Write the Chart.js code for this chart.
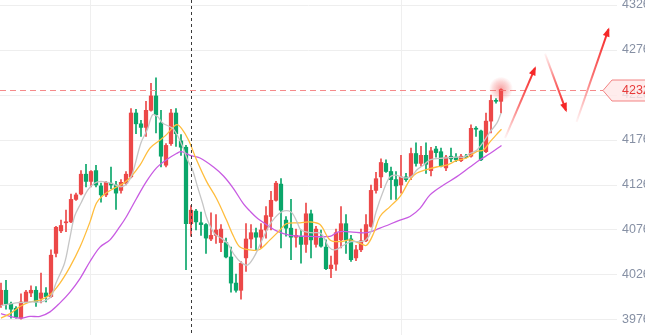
<!DOCTYPE html>
<html>
<head>
<meta charset="utf-8">
<title>K线</title>
<script src="https://cdn.jsdelivr.net/npm/chart.js@4/dist/chart.umd.min.js"></script>
<style>
  html, body { margin: 0; padding: 0; background: #fff; overflow: hidden; }
  #kline { display: block; }
</style>
</head>
<body>
<canvas id="kline" width="645" height="335"></canvas>
<script>
'use strict';

// daily candles, oldest first
const opens = [3993, 4009, 3994, 3989, 3978, 3996, 4006, 4009, 4000, 4006,
  4002, 4050, 4075, 4084, 4085, 4110, 4116, 4138, 4130, 4142,
  4125, 4115, 4128, 4126, 4120, 4128, 4135, 4206, 4194, 4190,
  4209, 4225, 4195, 4148, 4172, 4206, 4175, 4168, 4083, 4097,
  4084, 4082, 4066, 4070, 4062, 4062, 4046, 4017, 4009, 4045,
  4066, 4073, 4068, 4076, 4091, 4109, 4127, 4087, 4078, 4068,
  4069, 4060, 4094, 4060, 4067, 4057, 4033, 4038, 4065, 4083,
  4066, 4045, 4054, 4064, 4080, 4120, 4135, 4150, 4141, 4132,
  4126, 4135, 4135, 4161, 4150, 4159, 4142, 4166, 4163, 4145,
  4158, 4157, 4153, 4158, 4158, 4189, 4186, 4163, 4197, 4220, 4219];
const highs = [4017, 4020, 3996, 3991, 4005, 4009, 4014, 4013, 4028, 4012,
  4054, 4080, 4087, 4098, 4116, 4117, 4142, 4149, 4142, 4148,
  4128, 4130, 4146, 4130, 4132, 4141, 4211, 4210, 4198, 4219,
  4239, 4245, 4209, 4172, 4210, 4211, 4182, 4170, 4103, 4099,
  4096, 4083, 4095, 4093, 4082, 4067, 4057, 4027, 4041, 4083,
  4082, 4078, 4083, 4102, 4119, 4130, 4133, 4091, 4110, 4077,
  4076, 4106, 4098, 4080, 4076, 4065, 4047, 4077, 4102, 4093,
  4070, 4059, 4077, 4093, 4126, 4140, 4155, 4154, 4146, 4141,
  4159, 4139, 4167, 4173, 4169, 4173, 4168, 4169, 4167, 4159,
  4167, 4161, 4160, 4160, 4193, 4191, 4187, 4206, 4226, 4222, 4233];
const lows = [3990, 3988, 3978, 3978, 3977, 3995, 4002, 3991, 3995, 3996,
  4001, 4046, 4073, 4074, 4084, 4109, 4115, 4124, 4124, 4124,
  4107, 4113, 4122, 4099, 4117, 4126, 4134, 4183, 4180, 4180,
  4208, 4184, 4146, 4146, 4170, 4169, 4159, 4032, 4069, 4076,
  4070, 4050, 4064, 4061, 4052, 4045, 4007, 4007, 3999, 4030,
  4056, 4054, 4056, 4067, 4076, 4108, 4056, 4069, 4043, 4057,
  4039, 4051, 4045, 4057, 4057, 4032, 4023, 4031, 4056, 4050,
  4041, 4042, 4052, 4063, 4079, 4117, 4123, 4140, 4110, 4110,
  4117, 4130, 4132, 4147, 4147, 4139, 4136, 4157, 4146, 4142,
  4152, 4152, 4152, 4156, 4157, 4180, 4153, 4162, 4184, 4217, 4206];
const closes = [4009, 3994, 3988, 3979, 3996, 4007, 4009, 3996, 4006, 4002,
  4048, 4079, 4081, 4085, 4110, 4115, 4138, 4130, 4141, 4126,
  4115, 4129, 4126, 4117, 4129, 4138, 4206, 4194, 4190, 4209,
  4225, 4204, 4158, 4170, 4206, 4183, 4168, 4083, 4098, 4085,
  4082, 4067, 4070, 4076, 4077, 4046, 4017, 4009, 4039, 4066,
  4073, 4068, 4076, 4092, 4109, 4128, 4098, 4078, 4068, 4070,
  4060, 4094, 4065, 4077, 4058, 4033, 4037, 4073, 4083, 4065,
  4043, 4054, 4064, 4082, 4120, 4133, 4151, 4141, 4132, 4125,
  4135, 4132, 4161, 4150, 4159, 4149, 4164, 4162, 4147, 4157,
  4155, 4154, 4158, 4157, 4189, 4188, 4154, 4197, 4220, 4219, 4232];

// moving averages as [candle index, price]
const ma5 = [[0, 3992], [3, 3995], [6, 3996], [8, 3996], [9, 3998], [10, 4002], [11, 4017],
  [12.7, 4039], [13.7, 4065], [14.7, 4091], [16, 4106], [17.3, 4120], [18.7, 4128], [20, 4130],
  [22, 4128], [24, 4124], [25.3, 4128], [26.3, 4139], [28, 4173], [29.3, 4188], [30.3, 4204],
  [31.3, 4202], [32.3, 4195], [34.3, 4189], [35.3, 4181], [36.3, 4169], [37.3, 4154], [38.3, 4143],
  [39.3, 4124], [40.3, 4106], [41.3, 4087], [42.7, 4072], [44, 4067], [45.3, 4061], [46.7, 4048],
  [48, 4040], [49.3, 4037], [50.5, 4045], [51.5, 4056], [53, 4074], [54.1, 4085], [56.1, 4096],
  [58, 4096], [59.2, 4085], [60, 4076], [62, 4073], [64, 4072], [65.6, 4057], [66.8, 4054],
  [68.5, 4059], [70, 4063], [72, 4063], [73, 4065], [74, 4074], [75, 4096], [76.5, 4120],
  [77.8, 4135], [79, 4137], [80.5, 4134], [82, 4135], [83.2, 4143], [84.5, 4148], [85.8, 4154],
  [88.5, 4156], [91.2, 4157], [92.5, 4157], [93.8, 4161], [95.2, 4165], [96.5, 4174],
  [97.8, 4185], [99.2, 4195], [100, 4206]];
const ma10 = [[0, 3978], [1.8, 3983], [3.8, 3991], [5.8, 3996], [7.8, 3998], [9.8, 4004],
  [11.8, 4017], [13.8, 4035], [15.8, 4057], [17.8, 4085], [19.1, 4106], [20.5, 4115],
  [22.5, 4122], [24.5, 4128], [25.8, 4134], [27.8, 4148], [29.8, 4167], [31.8, 4176],
  [33.1, 4182], [35.1, 4193], [36.1, 4189], [37.5, 4176], [39.1, 4154], [41.1, 4130],
  [43.1, 4111], [45.1, 4087], [46.5, 4069], [47.8, 4057], [49.8, 4054], [51.6, 4054],
  [53.8, 4065], [55.8, 4076], [57.1, 4083], [59.8, 4084], [61.8, 4085], [63.8, 4082],
  [65.8, 4065], [67.8, 4063], [69.8, 4065], [71.8, 4061], [73.1, 4059], [74.5, 4072],
  [75.8, 4091], [77.8, 4102], [79.8, 4113], [81.8, 4132], [83.1, 4139], [85.1, 4143],
  [87.1, 4146], [89.1, 4148], [91.1, 4153], [93.1, 4156], [95.1, 4163], [96.5, 4165],
  [97.8, 4174], [99.1, 4182], [100.1, 4188]];
const ma20 = [[0, 3983], [1.8, 3980], [3.8, 3978], [5.8, 3980], [7.8, 3980], [9.8, 3985],
  [11.8, 3995], [13.8, 4007], [15.8, 4022], [17.8, 4041], [19.8, 4057], [21.8, 4065],
  [23.8, 4080], [25.1, 4091], [27.1, 4111], [29.1, 4130], [31.1, 4145], [33.1, 4154],
  [35.1, 4161], [36.1, 4163], [37.8, 4159], [39.8, 4156], [42.5, 4146], [44.5, 4136],
  [46.5, 4122], [48.5, 4105], [49.8, 4097], [51.1, 4090], [53.1, 4082], [55.1, 4075],
  [57.8, 4070], [61.8, 4069], [65.8, 4069], [67.5, 4074], [69.8, 4074], [73.1, 4073],
  [75.8, 4078], [79.8, 4087], [81.8, 4091], [83.8, 4100], [85.8, 4115], [88.5, 4126],
  [91.1, 4135], [93.8, 4146], [95.8, 4154], [97.8, 4161], [100.1, 4170]];

const priceTicks = [3976, 4026, 4076, 4126, 4176, 4226, 4276, 4326];
const dateTicks = [18, 80];   // month boundaries
const crossIndex = 38;

// hand-drawn trend arrows, [index, price] from -> to
const arrows = [
  [[100.8, 4178], [106.8, 4256]],
  [[108.8, 4272], [113, 4209]],
  [[115.1, 4196], [121.5, 4299]]
];

const upColor = '#ec4848';
const downColor = '#0aa66a';

let bodies = [];
let wicks = [];
let candleColors = [];
for (let i = 0; i < closes.length; i++) {
  bodies.push({x: i, y: [opens[i], closes[i]]});
  wicks.push({x: i, y: [lows[i], highs[i]]});
  candleColors.push(closes[i] >= opens[i] ? upColor : downColor);
}

function toPoints(list) {
  return list.map(function(p) { return {x: p[0], y: p[1]}; });
}

function lineSet(label, list, color) {
  return {
    type: 'line',
    label: label,
    data: toPoints(list),
    borderColor: color,
    borderWidth: 1.3,
    pointRadius: 0,
    tension: 0.35,
    fill: false,
    order: 1
  };
}

// last price line, cross line, arrows and price tag
const overlay = {
  id: 'overlay',
  afterDatasetsDraw(chart) {
    let ctx = chart.ctx;
    let x = chart.scales.x;
    let y = chart.scales.y;
    let area = chart.chartArea;
    let last = closes.length - 1;
    let lastY = y.getPixelForValue(closes[last]);

    ctx.save();
    // vertical cross line
    let cx = Math.round(x.getPixelForValue(crossIndex)) + 0.5;
    ctx.strokeStyle = '#3a3a3a';
    ctx.lineWidth = 1;
    ctx.setLineDash([3, 3]);
    ctx.beginPath();
    ctx.moveTo(cx, area.top);
    ctx.lineTo(cx, area.bottom);
    ctx.stroke();

    // last price dashed line
    ctx.strokeStyle = '#f58a8a';
    ctx.setLineDash([6, 4]);
    ctx.beginPath();
    ctx.moveTo(area.left, Math.round(lastY) + 0.5);
    ctx.lineTo(area.right - 14, Math.round(lastY) + 0.5);
    ctx.stroke();
    ctx.setLineDash([]);

    // pulse glow on the latest candle
    let gx = x.getPixelForValue(last);
    let gy = y.getPixelForValue(highs[last]);
    let glow = ctx.createRadialGradient(gx, gy, 0, gx, gy, 12);
    glow.addColorStop(0, 'rgba(240, 70, 70, 0.5)');
    glow.addColorStop(0.6, 'rgba(240, 90, 90, 0.25)');
    glow.addColorStop(1, 'rgba(240, 90, 90, 0)');
    ctx.fillStyle = glow;
    ctx.beginPath();
    ctx.arc(gx, gy, 12, 0, Math.PI * 2);
    ctx.fill();

    // trend arrows
    for (let i = 0; i < arrows.length; i++) {
      let x0 = x.getPixelForValue(arrows[i][0][0]);
      let y0 = y.getPixelForValue(arrows[i][0][1]);
      let x1 = x.getPixelForValue(arrows[i][1][0]);
      let y1 = y.getPixelForValue(arrows[i][1][1]);
      let grad = ctx.createLinearGradient(x0, y0, x1, y1);
      grad.addColorStop(0, 'rgba(250, 60, 60, 0.05)');
      grad.addColorStop(0.5, 'rgba(248, 50, 50, 0.7)');
      grad.addColorStop(1, 'rgba(245, 35, 35, 1)');
      ctx.strokeStyle = grad;
      ctx.lineWidth = 2;
      ctx.beginPath();
      ctx.moveTo(x0, y0);
      ctx.lineTo(x1, y1);
      ctx.stroke();

      let ang = Math.atan2(y1 - y0, x1 - x0);
      ctx.fillStyle = '#f52828';
      ctx.beginPath();
      ctx.moveTo(x1 + Math.cos(ang) * 2, y1 + Math.sin(ang) * 2);
      ctx.lineTo(x1 - Math.cos(ang - 0.45) * 8, y1 - Math.sin(ang - 0.45) * 8);
      ctx.lineTo(x1 - Math.cos(ang + 0.45) * 8, y1 - Math.sin(ang + 0.45) * 8);
      ctx.closePath();
      ctx.fill();
    }
    ctx.restore();
  },
  afterDraw(chart) {
    let ctx = chart.ctx;
    let y = chart.scales.y;
    let area = chart.chartArea;
    let last = closes.length - 1;
    let ty = Math.round(y.getPixelForValue(closes[last])) + 0.5;
    let tip = area.right - 14;

    ctx.save();
    ctx.fillStyle = 'rgba(255, 232, 232, 0.82)';
    ctx.strokeStyle = 'rgba(240, 110, 110, 0.85)';
    ctx.lineWidth = 1;
    ctx.beginPath();
    ctx.moveTo(tip, ty);
    ctx.lineTo(tip + 9, ty - 10.5);
    ctx.lineTo(chart.width + 5, ty - 10.5);
    ctx.lineTo(chart.width + 5, ty + 10.5);
    ctx.lineTo(tip + 9, ty + 10.5);
    ctx.closePath();
    ctx.fill();
    ctx.stroke();

    ctx.fillStyle = '#e83a3a';
    ctx.font = '12.5px "Liberation Sans", Arial, sans-serif';
    ctx.textAlign = 'left';
    ctx.textBaseline = 'middle';
    ctx.fillText(String(closes[last]), area.right + 5, ty);
    ctx.restore();
  }
};

new Chart(document.getElementById('kline'), {
  type: 'bar',
  data: {
    datasets: [
      lineSet('MA5', ma5, '#c6c6c6'),
      lineSet('MA10', ma10, '#ffbd3d'),
      lineSet('MA20', ma20, '#c85be2'),
      {
        label: 'body',
        data: bodies,
        backgroundColor: candleColors,
        barThickness: 3.6,
        minBarLength: 1,
        grouped: false,
        order: 2
      },
      {
        label: 'wick',
        data: wicks,
        backgroundColor: candleColors,
        barThickness: 1,
        grouped: false,
        order: 3
      }
    ]
  },
  options: {
    responsive: false,
    animation: false,
    devicePixelRatio: 1,
    layout: { padding: 0 },
    plugins: {
      legend: { display: false },
      tooltip: { enabled: false }
    },
    scales: {
      x: {
        type: 'linear',
        min: -0.2,
        max: 123.2,
        offset: false,
        border: { display: false },
        grid: { color: '#efefef', drawTicks: false, offset: false },
        ticks: { display: false },
        afterBuildTicks: function(scale) {
          scale.ticks = dateTicks.map(function(v) { return {value: v}; });
        },
        afterFit: function(scale) {
          scale.height = 0;
          scale.paddingLeft = 0;
          scale.paddingRight = 0;
        }
      },
      y: {
        type: 'linear',
        position: 'right',
        min: 3959.3,
        max: 4331.6,
        border: { display: false },
        grid: { color: '#eeeeee', drawTicks: false },
        ticks: {
          color: '#8690a4',
          padding: 5,
          font: { size: 12.5, family: '"Liberation Sans", Arial, sans-serif' },
          callback: function(value) { return String(value); }
        },
        afterBuildTicks: function(scale) {
          scale.ticks = priceTicks.map(function(v) { return {value: v}; });
        },
        afterFit: function(scale) {
          scale.width = 28;
          scale.paddingTop = 0;
          scale.paddingBottom = 0;
        }
      }
    }
  },
  plugins: [overlay]
});
</script>
</body>
</html>
